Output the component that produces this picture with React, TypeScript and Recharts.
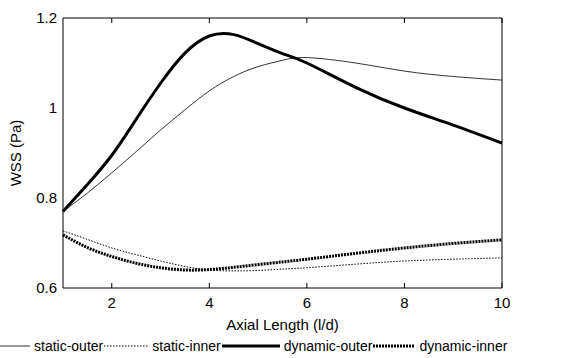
import React from "react";
import {
  LineChart,
  Line,
  XAxis,
  YAxis,
  Legend,
  Label,
} from "recharts";

// axial positions (l/d)
const axial = [1, 1.5, 2, 2.5, 3, 3.5, 4, 4.5, 5, 5.5, 6, 7, 8, 9, 10];

// WSS values (Pa)
const staticOuter = [0.77, 0.811, 0.856, 0.903, 0.951, 0.996, 1.038, 1.07, 1.092, 1.106, 1.112, 1.1, 1.082, 1.07, 1.062];
const staticInner = [0.727, 0.708, 0.689, 0.674, 0.66, 0.648, 0.64, 0.638, 0.639, 0.642, 0.645, 0.653, 0.66, 0.664, 0.667];
const dynamicOuter = [0.77, 0.83, 0.895, 0.975, 1.055, 1.122, 1.16, 1.163, 1.143, 1.121, 1.1, 1.046, 1.0, 0.962, 0.922];
const dynamicInner = [0.718, 0.69, 0.67, 0.655, 0.645, 0.64, 0.641, 0.646, 0.652, 0.658, 0.664, 0.677, 0.689, 0.699, 0.707];

const xTicks = [2, 4, 6, 8, 10];
const yTicks = [0.6, 0.8, 1, 1.2];

const data = axial.map((x, i) => ({
  x,
  staticOuter: staticOuter[i],
  staticInner: staticInner[i],
  dynamicOuter: dynamicOuter[i],
  dynamicInner: dynamicInner[i],
}));

const font = "'Liberation Sans', Arial, sans-serif";

// legend entries: line style + label
const legendItems = [
  { label: "static-outer", w: 30, width: 0.8, dash: undefined },
  { label: "static-inner", w: 44, width: 1, dash: "1.5 1.5" },
  { label: "dynamic-outer", w: 58, width: 3, dash: undefined },
  { label: "dynamic-inner", w: 42, width: 3, dash: "2 1" },
];

const CustomLegend = () => (
  <div
    style={{
      display: "flex",
      alignItems: "center",
      height: 25,
      fontFamily: font,
      fontSize: 14,
      color: "#000",
      whiteSpace: "nowrap",
    }}
  >
    {legendItems.map((it, i) => (
      <div key={i} style={{ display: "flex", alignItems: "center" }}>
        <svg width={it.w} height={10} style={{ marginRight: 4 }}>
          <line
            x1={0}
            y1={5}
            x2={it.w}
            y2={5}
            stroke="#000"
            strokeWidth={it.width}
            strokeDasharray={it.dash}
          />
        </svg>
        <span style={{ marginRight: 1 }}>{it.label}</span>
      </div>
    ))}
  </div>
);

export default function App() {
  const tickStyle = { fill: "#000", fontSize: 15, fontFamily: font };
  return (
    <div style={{ position: "absolute", left: 0, top: 0, width: 561, height: 358, background: "#fff" }}>
      <LineChart
        width={561}
        height={358}
        data={data}
        margin={{ top: 18, right: 59, left: 0, bottom: 0 }}
      >
        {/* labelled axes */}
        <XAxis
          dataKey="x"
          type="number"
          domain={[1, 10]}
          ticks={xTicks}
          tickLine={false}
          tickSize={0}
          tickMargin={9}
          height={45}
          stroke="#000"
          tick={tickStyle}
        >
          <Label
            value="Axial Length (l/d)"
            position="insideBottom"
            offset={3}
            style={{ fill: "#000", fontSize: 15, fontFamily: font }}
          />
        </XAxis>
        <YAxis
          type="number"
          domain={[0.6, 1.2]}
          ticks={yTicks}
          tickLine={false}
          tickSize={0}
          tickMargin={6}
          width={63}
          stroke="#000"
          tick={tickStyle}
        >
          <Label
            value="WSS (Pa)"
            angle={-90}
            position="insideLeft"
            offset={16}
            style={{ textAnchor: "middle", fill: "#000", fontSize: 15, fontFamily: font }}
          />
        </YAxis>

        {/* mirrored axes: inward tick marks + box */}
        <XAxis
          xAxisId="bt"
          dataKey="x"
          type="number"
          mirror
          domain={[1, 10]}
          ticks={xTicks}
          tickSize={5}
          axisLine={false}
          stroke="#000"
          tickFormatter={() => ""}
        />
        <XAxis
          xAxisId="top"
          dataKey="x"
          type="number"
          orientation="top"
          mirror
          domain={[1, 10]}
          ticks={xTicks}
          tickSize={5}
          stroke="#000"
          tickFormatter={() => ""}
        />
        <YAxis
          yAxisId="lt"
          type="number"
          mirror
          domain={[0.6, 1.2]}
          ticks={yTicks}
          tickSize={5}
          axisLine={false}
          stroke="#000"
          tickFormatter={() => ""}
        />
        <YAxis
          yAxisId="right"
          type="number"
          orientation="right"
          mirror
          domain={[0.6, 1.2]}
          ticks={yTicks}
          tickSize={5}
          stroke="#000"
          tickFormatter={() => ""}
        />

        <Legend
          verticalAlign="bottom"
          content={<CustomLegend />}
          wrapperStyle={{ left: 0, width: 561 }}
        />
        <Line
          type="natural"
          dataKey="staticOuter"
          stroke="#000"
          strokeWidth={0.8}
          dot={false}
          isAnimationActive={false}
        />
        <Line
          type="natural"
          dataKey="staticInner"
          stroke="#000"
          strokeWidth={1}
          strokeDasharray="1.5 1.5"
          dot={false}
          isAnimationActive={false}
        />
        <Line
          type="natural"
          dataKey="dynamicOuter"
          stroke="#000"
          strokeWidth={3}
          dot={false}
          isAnimationActive={false}
        />
        <Line
          type="natural"
          dataKey="dynamicInner"
          stroke="#000"
          strokeWidth={3}
          strokeDasharray="2 1"
          dot={false}
          isAnimationActive={false}
        />
      </LineChart>
    </div>
  );
}
